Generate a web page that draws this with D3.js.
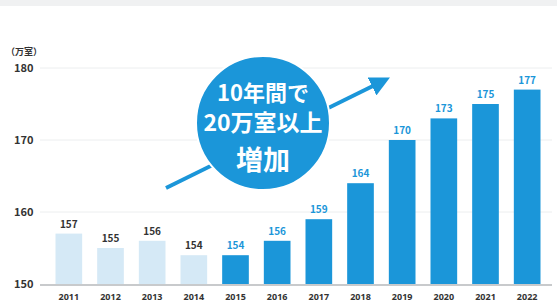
<!DOCTYPE html>
<html>
<head>
<meta charset="utf-8">
<script src="https://cdn.jsdelivr.net/npm/d3@7"></script>
<style>
  body { margin: 0; background: #fff; }
  svg { display: block; font-family: "Noto Sans CJK JP", "Noto Sans", sans-serif; }
</style>
</head>
<body>
<svg id="chart" width="557" height="304"></svg>
<script>
// 客室数（万室）
const years = ["2011","2012","2013","2014","2015","2016","2017","2018","2019","2020","2021","2022"]
const rooms = [157, 155, 156, 154, 154, 156, 159, 164, 170, 173, 175, 177]
const yTicks = [150, 160, 170, 180]
const calloutLines = ["10年間で", "20万室以上", "増加"]

const svg = d3.select("#chart")
const W = 557, H = 304
const mLeft = 48, mRight = 548, mTop = 68, mBottom = 284

const lightBlue = "#d5e9f6", blue = "#1b96d9"

// faint strip at the top
svg.append("rect").attr("x", 0).attr("y", 0).attr("width", W).attr("height", 6).attr("fill", "#f0f1f2")

const x = d3.scaleBand().domain(years).range([mLeft, mRight]).paddingInner(0.36).paddingOuter(0.18)
const y = d3.scaleLinear().domain([150, 180]).range([mBottom, mTop])

// grid
svg.append("g").selectAll("line")
  .data(yTicks.filter(t => t > 150))
  .join("line")
  .attr("x1", 40).attr("x2", 552)
  .attr("y1", d => y(d)).attr("y2", d => y(d))
  .attr("stroke", "#eceeef").attr("stroke-width", 1)

// y axis labels
svg.append("g").selectAll("text")
  .data(yTicks)
  .join("text")
  .attr("x", 14).attr("y", d => y(d) + 4)
  .attr("font-size", 11).attr("font-weight", "bold").attr("fill", "#333")
  .text(d => d)

svg.append("text").attr("x", 6).attr("y", 55)
  .attr("font-size", 9).attr("font-weight", "bold").attr("fill", "#333")
  .text("（万室）")

// bars
const light = i => i < 4
svg.append("g").selectAll("rect")
  .data(rooms)
  .join("rect")
  .attr("x", (d, i) => x(years[i]))
  .attr("width", x.bandwidth())
  .attr("y", d => y(d))
  .attr("height", d => y(150) - y(d))
  .attr("fill", (d, i) => light(i) ? lightBlue : blue)

// value labels
svg.append("g").selectAll("text")
  .data(rooms)
  .join("text")
  .attr("x", (d, i) => x(years[i]) + x.bandwidth() / 2)
  .attr("y", d => y(d) - 6)
  .attr("text-anchor", "middle")
  .attr("font-size", 10).attr("font-weight", "bold")
  .attr("fill", (d, i) => light(i) ? "#333" : blue)
  .text(d => d)

// baseline
svg.append("line").attr("x1", 40).attr("x2", 552)
  .attr("y1", y(150) + 1).attr("y2", y(150) + 1)
  .attr("stroke", "#c8cacc").attr("stroke-width", 2)

// year labels
const xAxis = svg.append("g").attr("transform", `translate(0,${y(150) + 2})`)
  .call(d3.axisBottom(x).tickSize(0).tickPadding(8))
xAxis.select(".domain").remove()
xAxis.selectAll("text").attr("font-size", 9).attr("font-weight", "bold").attr("fill", "#333")
  .attr("font-family", "\"Noto Sans\", sans-serif")

// arrow
const defs = svg.append("defs")
defs.append("marker").attr("id", "head").attr("viewBox", "0 0 10 10")
  .attr("refX", 5).attr("refY", 5).attr("markerWidth", 5).attr("markerHeight", 5)
  .attr("orient", "auto").attr("markerUnits", "strokeWidth")
  .append("path").attr("d", "M0,0 L10,5 L0,10 z").attr("fill", blue)
svg.append("line").attr("x1", 166).attr("y1", 188).attr("x2", 381).attr("y2", 82)
  .attr("stroke", blue).attr("stroke-width", 4).attr("marker-end", "url(#head)")

// callout circle
svg.append("circle").attr("cx", 263).attr("cy", 123).attr("r", 67)
  .attr("fill", blue).attr("stroke", "#fff").attr("stroke-width", 2)
const sizes = [22, 23, 27], ys = [101, 131, 170]
svg.append("g").selectAll("text")
  .data(calloutLines)
  .join("text")
  .attr("x", 263).attr("y", (d, i) => ys[i])
  .attr("text-anchor", "middle")
  .attr("font-size", (d, i) => sizes[i]).attr("font-weight", "bold").attr("fill", "#fff")
  .text(d => d)
</script>
</body>
</html>
